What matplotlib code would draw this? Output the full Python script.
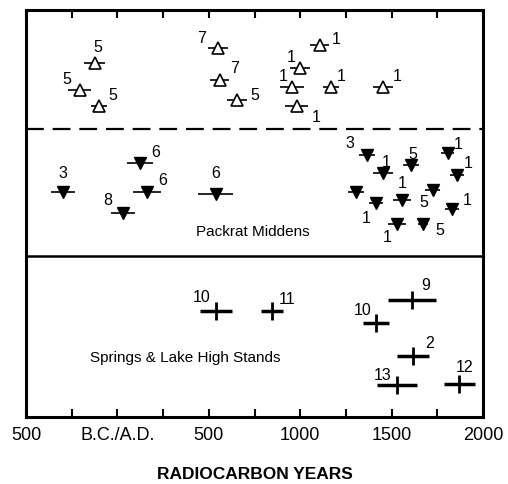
import numpy as np
import matplotlib
matplotlib.use("Agg")
import matplotlib.pyplot as plt

plt.rcParams['font.family'] = ['Liberation Sans', 'DejaVu Sans']

# 空心三角 (上部)
open_year = [-123, -205, -101, 550, 561, 654, 1108, 999, 955, 1168, 1453, 982]
open_err = [57, 63, 45, 57, 52, 57, 52, 57, 66, 46, 55, 63]
open_y = [86.9, 80.3, 76.4, 90.6, 82.8, 77.8, 91.4, 85.7, 81.0, 81.0, 81.0, 76.4]
open_lab = ['5', '5', '5', '7', '7', '5', '1', '1', '1', '1', '1', '1']

# 实心倒三角 (Packrat Middens)
fill_year = [-298, 124, 162, 31, 539, 1365, 1453, 1606, 1808, 1858,
             1305, 1557, 1726, 1415, 1830, 1529, 1672]
fill_err = [66, 71, 77, 68, 96, 46, 55, 44, 36, 38,
            44, 49, 41, 38, 38, 49, 25]
fill_y = [55.4, 62.3, 55.4, 50.2, 54.9, 64.3, 59.9, 61.8, 64.8, 59.4,
          55.2, 53.2, 55.7, 52.5, 51.0, 47.3, 47.3]
fill_lab = ['3', '6', '6', '8', '6', '3', '1', '5', '1', '1',
            '', '1', '5', '1', '1', '1', '5']

# 十字 (Springs & Lake High Stands)
cross_year = [539, 846, 1611, 1415, 1617, 1529, 1869]
cross_err = [88, 60, 131, 71, 90, 109, 85]
cross_y = [26.1, 26.1, 28.8, 23.2, 15.0, 7.9, 8.1]
cross_lab = ['10', '11', '9', '10', '2', '13', '12']

tick_pos = [-500, 0, 500, 1000, 1500, 2000]
tick_lab = ['500', 'B.C./A.D.', '500', '1000', '1500', '2000']

# 标签偏移 (像素)
open_off = [(3, 16), (-13, 11), (14, 11), (-16, 10), (15, 12), (18, 5),
            (16, 6), (-9, 11), (-9, 11), (10, 11), (14, 11), (19, -11)]
fill_off = [(0, 18), (16, 11), (16, 11), (-15, 12), (0, 20), (-17, 12),
            (3, 11), (2, 11), (10, 9), (11, 12), (0, 0), (0, 17),
            (-9, -12), (-10, -15), (15, 9), (-10, -13), (17, -6)]
cross_off = [(-14, 13), (15, 11), (14, 14), (-13, 12), (17, 12), (-14, 9), (6, 17)]

fig = plt.figure(figsize=(5.08, 4.84), dpi=100)
ax = fig.add_axes([26 / 508, 1 - 417 / 484, 457 / 508, 407 / 484])

ax.errorbar(open_year, open_y, xerr=open_err, fmt='^', ms=9, mfc='white',
            mec='black', mew=1.2, ecolor='black', elinewidth=1.2, capsize=0)
ax.errorbar(fill_year, fill_y, xerr=fill_err, fmt='v', ms=9, mfc='black',
            mec='black', ecolor='black', elinewidth=1.2, capsize=0)
ax.errorbar(cross_year, cross_y, xerr=cross_err, fmt='|', ms=13, mew=2,
            color='black', ecolor='black', elinewidth=2.5, capsize=0)

for xs, ys, labs, offs in [(open_year, open_y, open_lab, open_off),
                           (fill_year, fill_y, fill_lab, fill_off),
                           (cross_year, cross_y, cross_lab, cross_off)]:
    for x, y, t, o in zip(xs, ys, labs, offs):
        if t:
            ax.annotate(t, (x, y), xytext=o, textcoords='offset pixels',
                        ha='center', va='center', fontsize=11.5)

ax.axhline(70.8, color='black', lw=1.6, ls=(0, (8, 4)))
ax.axhline(39.6, color='black', lw=1.8)

ax.text(742, 45.5, 'Packrat Middens', ha='center', va='center', fontsize=11)
ax.text(370, 14.5, 'Springs & Lake High Stands', ha='center', va='center',
        fontsize=11)

ax.set_xlim(-500, 2000)
ax.set_ylim(0, 100)
ax.set_yticks([])
ax.set_xticks(tick_pos)
ax.set_xticklabels(tick_lab, fontsize=13)
ax.set_xticks(np.arange(-250, 2000, 500), minor=True)
ax.tick_params(axis='x', which='both', direction='in', length=6, width=1.5,
               top=True, pad=7)
for s in ax.spines.values():
    s.set_linewidth(2.2)

ax.set_xlabel('RADIOCARBON YEARS', fontsize=12.5, fontweight='bold', labelpad=17)

fig.savefig('out.png', dpi=100)
